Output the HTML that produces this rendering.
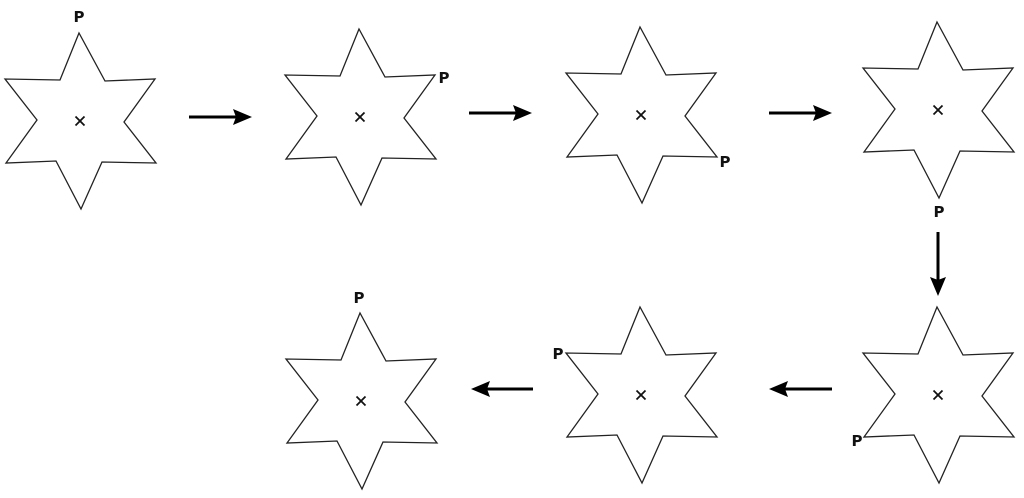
<!DOCTYPE html>
<html><head><meta charset="utf-8"><style>html,body{margin:0;padding:0;background:#fff}</style></head>
<body>
<svg width="1024" height="493" viewBox="0 0 1024 493" xmlns="http://www.w3.org/2000/svg">
<defs>
<polygon id="s" points="-1,-88 -20,-41 -75,-42 -43,-1 -74,42 -24,40 1,88 22,41 76,42 44,1 75,-42 25,-40" fill="#fff" stroke="#222" stroke-width="1.3" stroke-linejoin="miter"/>
<g id="x"><line x1="-4.5" y1="-4.5" x2="4.5" y2="4.5" stroke="#111" stroke-width="1.8"/><line x1="-4.5" y1="4.5" x2="4.5" y2="-4.5" stroke="#111" stroke-width="1.8"/></g>
</defs>
<g transform="translate(80,121)"><use href="#s"/><use href="#x"/></g>
<g transform="translate(360,117)"><use href="#s"/><use href="#x"/></g>
<g transform="translate(641,115)"><use href="#s"/><use href="#x"/></g>
<g transform="translate(938,110)"><use href="#s"/><use href="#x"/></g>
<g transform="translate(938,395)"><use href="#s"/><use href="#x"/></g>
<g transform="translate(641,395)"><use href="#s"/><use href="#x"/></g>
<g transform="translate(361,401)"><use href="#s"/><use href="#x"/></g>
<g font-family="DejaVu Sans, sans-serif" font-weight="bold" font-size="15" fill="#111" text-anchor="middle">
<text x="79" y="22">P</text>
<text x="444" y="83">P</text>
<text x="725" y="167">P</text>
<text x="939" y="217">P</text>
<text x="857" y="446">P</text>
<text x="558" y="359">P</text>
<text x="359" y="303">P</text>
</g>
<g stroke="#000" stroke-width="3">
<line x1="189" y1="117" x2="238" y2="117"/>
<line x1="469" y1="113" x2="518" y2="113"/>
<line x1="769" y1="113" x2="818" y2="113"/>
<line x1="938" y1="232" x2="938" y2="282"/>
<line x1="832" y1="389" x2="783" y2="389"/>
<line x1="533" y1="389" x2="485" y2="389"/>
</g>
<g fill="#000">
<polygon points="252,117 233,109 236,117 233,125"/>
<polygon points="532,113 513,105 516,113 513,121"/>
<polygon points="832,113 813,105 816,113 813,121"/>
<polygon points="938,296 930,277 938,280 946,277"/>
<polygon points="769,389 788,381 785,389 788,397"/>
<polygon points="471,389 490,381 487,389 490,397"/>
</g>
</svg>
</body></html>
